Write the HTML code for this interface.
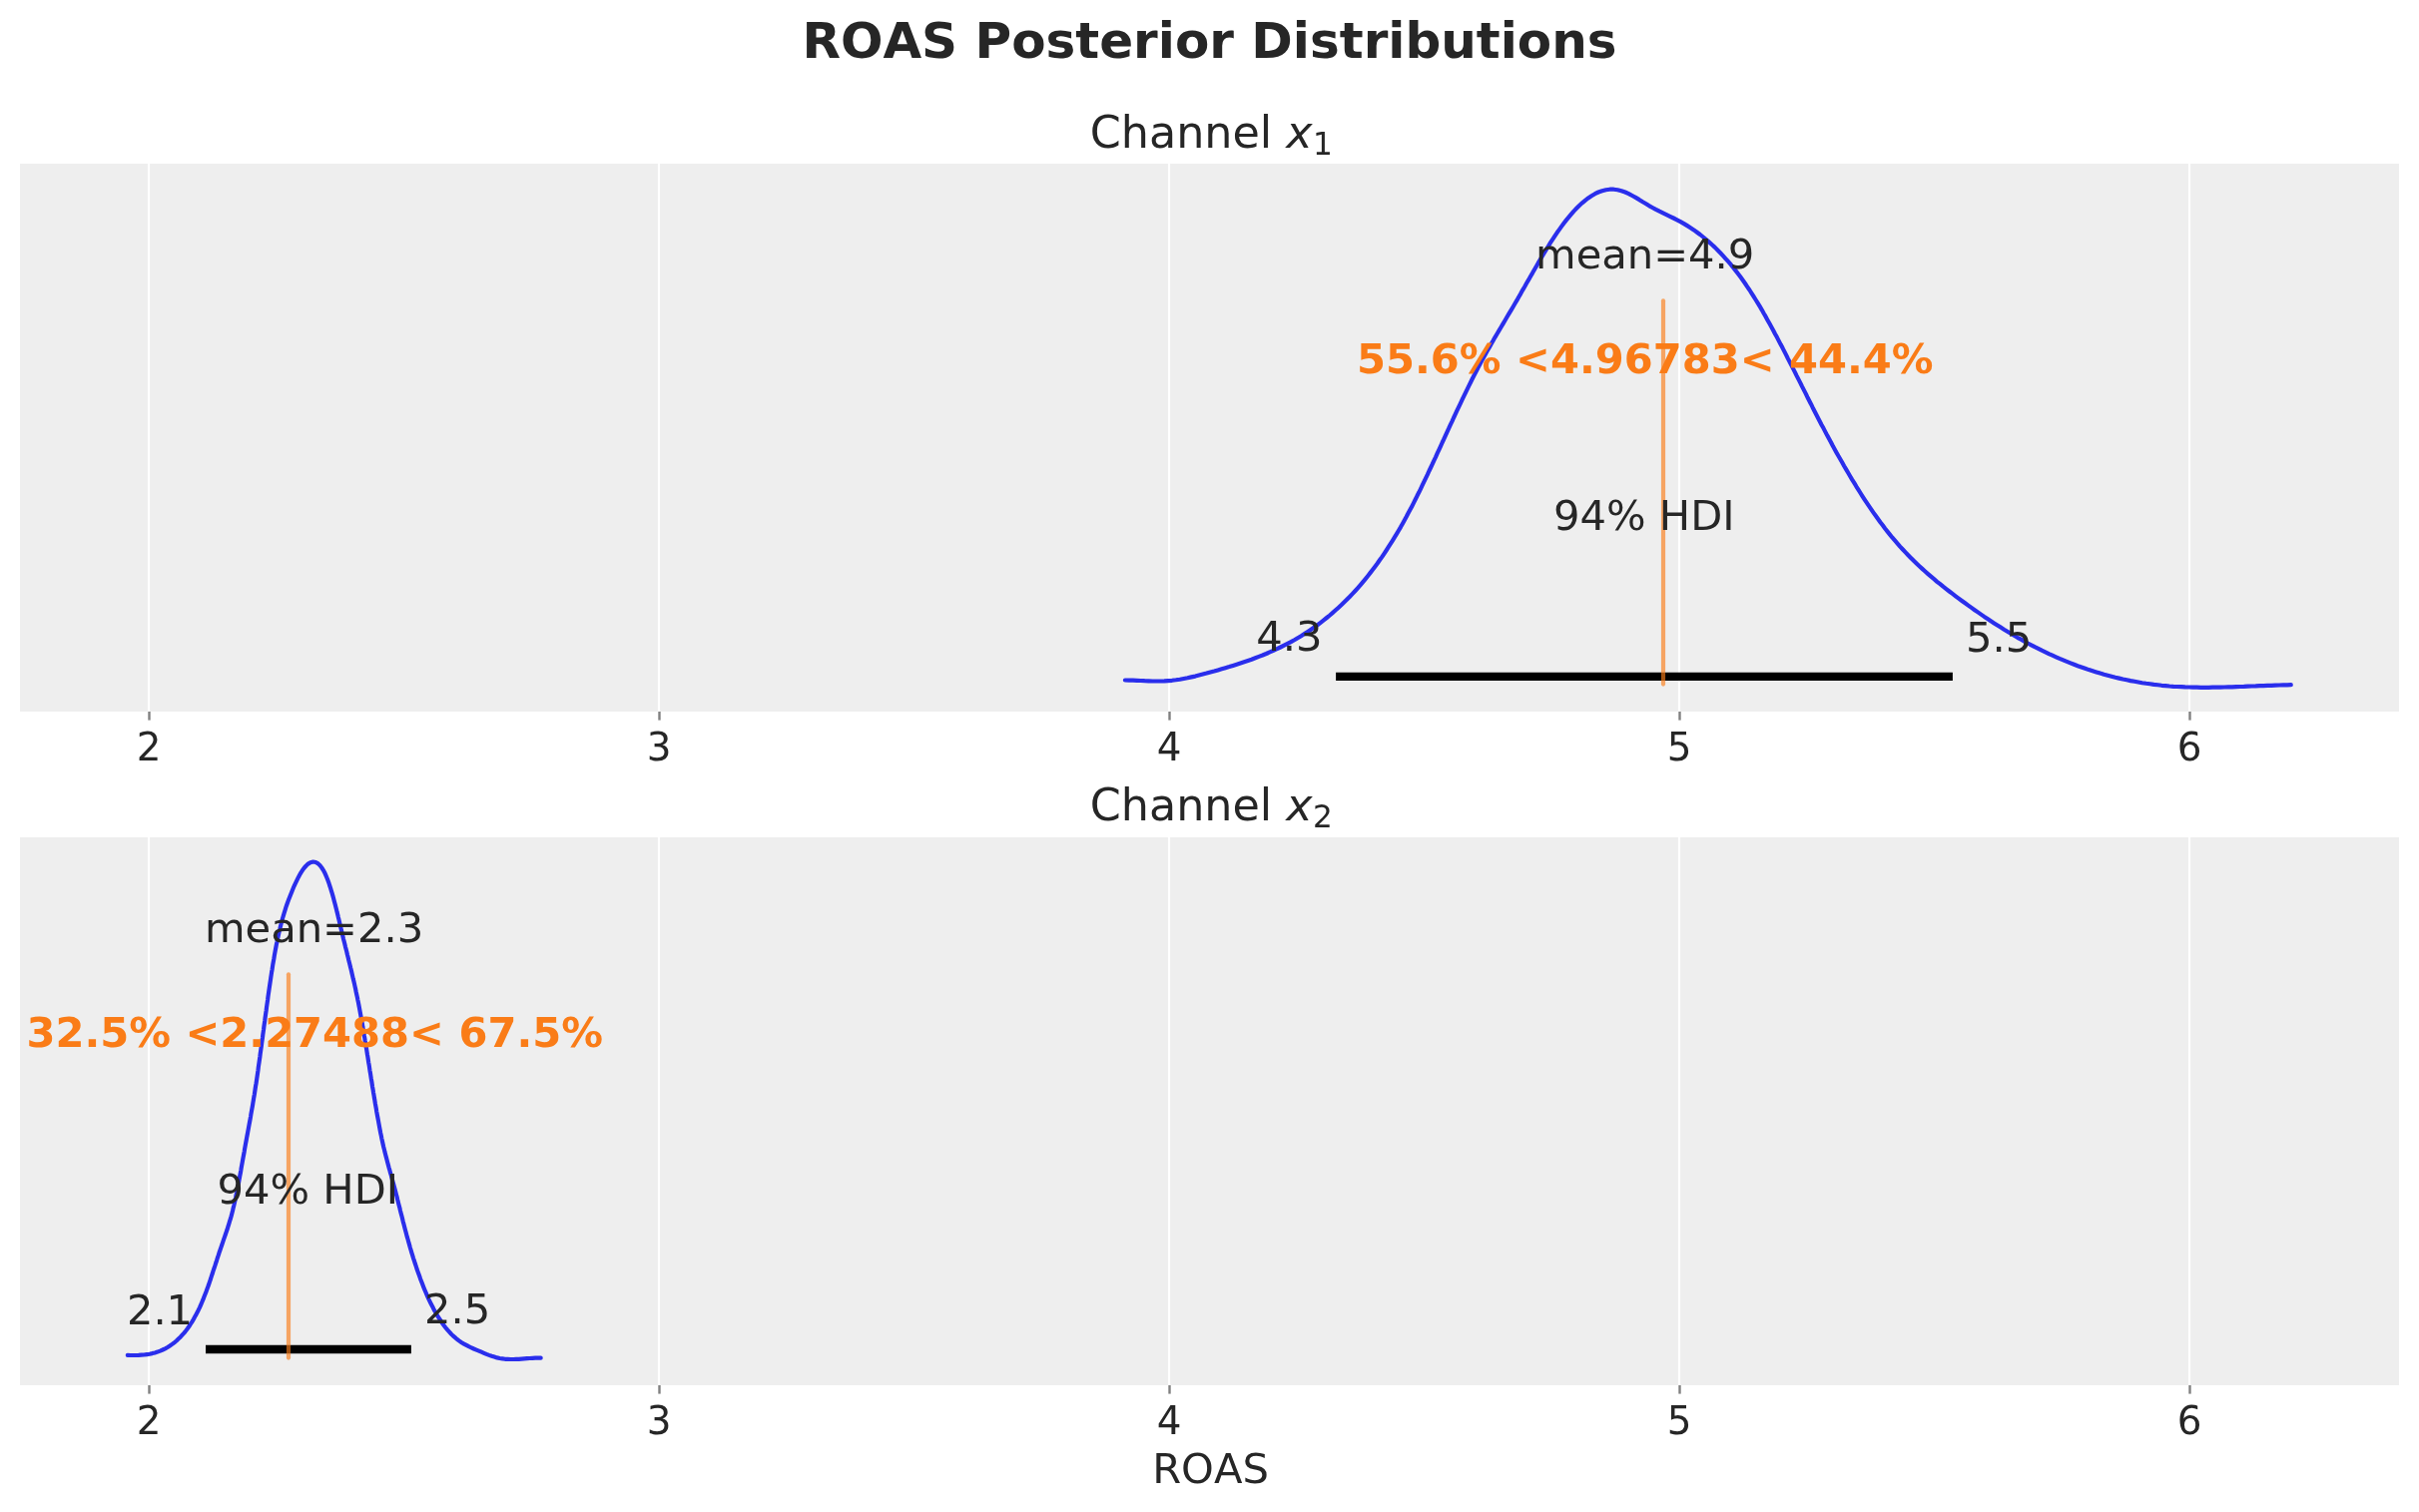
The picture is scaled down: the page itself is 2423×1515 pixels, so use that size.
<!DOCTYPE html>
<html lang="en">
<head>
<meta charset="utf-8">
<title>ROAS Posterior Distributions</title>
<style>
html,body{margin:0;padding:0;background:#ffffff;}
body{width:2423px;height:1515px;overflow:hidden;}
svg{display:block;will-change:transform;}
svg text{font-kerning:none;}
</style>
</head>
<body>
<svg width="2423" height="1515" viewBox="0 0 2423 1515" font-family='"DejaVu Sans", "Liberation Sans", sans-serif' fill="#262626">
<rect x="0" y="0" width="2423" height="1515" fill="#ffffff"/>
<text x="1211.5" y="58" font-size="50.0" font-weight="bold" text-anchor="middle">ROAS Posterior Distributions</text>
<rect x="20" y="164" width="2383" height="549" fill="#eeeeee"/>
<line x1="149.0" y1="164" x2="149.0" y2="713" stroke="#ffffff" stroke-width="2.2"/>
<line x1="660.0" y1="164" x2="660.0" y2="713" stroke="#ffffff" stroke-width="2.2"/>
<line x1="1171.0" y1="164" x2="1171.0" y2="713" stroke="#ffffff" stroke-width="2.2"/>
<line x1="1682.0" y1="164" x2="1682.0" y2="713" stroke="#ffffff" stroke-width="2.2"/>
<line x1="2193.0" y1="164" x2="2193.0" y2="713" stroke="#ffffff" stroke-width="2.2"/>
<line x1="149.5" y1="713" x2="149.5" y2="721.6" stroke="#808080" stroke-width="2.4"/>
<text x="149.0" y="762.2" font-size="38.89" text-anchor="middle">2</text>
<line x1="660.5" y1="713" x2="660.5" y2="721.6" stroke="#808080" stroke-width="2.4"/>
<text x="660.0" y="762.2" font-size="38.89" text-anchor="middle">3</text>
<line x1="1171.5" y1="713" x2="1171.5" y2="721.6" stroke="#808080" stroke-width="2.4"/>
<text x="1171.0" y="762.2" font-size="38.89" text-anchor="middle">4</text>
<line x1="1682.5" y1="713" x2="1682.5" y2="721.6" stroke="#808080" stroke-width="2.4"/>
<text x="1682.0" y="762.2" font-size="38.89" text-anchor="middle">5</text>
<line x1="2193.5" y1="713" x2="2193.5" y2="721.6" stroke="#808080" stroke-width="2.4"/>
<text x="2193.0" y="762.2" font-size="38.89" text-anchor="middle">6</text>
<text x="1213.3" y="147.9" font-size="44.44" text-anchor="middle">Channel <tspan font-style="oblique">x</tspan><tspan font-size="31.11" dy="6.6" dx="0.5">1</tspan></text>
<path d="M1126.9,681.5 L1130.8,681.6 L1134.8,681.7 L1138.7,681.8 L1142.6,682.0 L1146.5,682.2 L1150.5,682.3 L1154.4,682.5 L1158.3,682.5 L1162.3,682.5 L1166.2,682.4 L1170.1,682.1 L1174.0,681.8 L1177.9,681.3 L1181.8,680.7 L1185.7,680.0 L1189.5,679.3 L1193.4,678.4 L1197.2,677.6 L1201.0,676.6 L1204.8,675.6 L1208.6,674.6 L1212.4,673.5 L1216.2,672.5 L1220.0,671.4 L1223.7,670.3 L1227.5,669.2 L1231.3,668.1 L1235.0,666.9 L1238.8,665.7 L1242.5,664.5 L1246.2,663.3 L1250.0,662.0 L1253.7,660.7 L1257.4,659.3 L1261.0,657.9 L1264.7,656.5 L1268.3,655.0 L1271.9,653.4 L1275.5,651.8 L1279.1,650.2 L1282.6,648.5 L1286.2,646.7 L1289.7,644.9 L1293.1,643.1 L1296.5,641.2 L1299.9,639.2 L1303.3,637.2 L1306.6,635.1 L1309.9,632.9 L1313.2,630.7 L1316.4,628.5 L1319.6,626.2 L1322.8,623.8 L1325.9,621.4 L1328.9,619.0 L1332.0,616.5 L1335.0,613.9 L1337.9,611.3 L1340.8,608.7 L1343.7,606.0 L1346.5,603.3 L1349.3,600.5 L1352.1,597.7 L1354.8,594.9 L1357.5,592.0 L1360.1,589.1 L1362.7,586.1 L1365.2,583.1 L1367.7,580.1 L1370.2,577.0 L1372.6,573.9 L1375.0,570.8 L1377.3,567.7 L1379.7,564.5 L1381.9,561.3 L1384.2,558.1 L1386.4,554.8 L1388.6,551.5 L1390.7,548.2 L1392.8,544.9 L1394.9,541.6 L1397.0,538.2 L1399.0,534.9 L1401.0,531.5 L1403.0,528.1 L1404.9,524.7 L1406.8,521.2 L1408.7,517.8 L1410.5,514.3 L1412.4,510.8 L1414.2,507.4 L1416.0,503.9 L1417.8,500.3 L1419.5,496.8 L1421.3,493.3 L1423.0,489.8 L1424.7,486.2 L1426.4,482.7 L1428.1,479.1 L1429.8,475.6 L1431.4,472.0 L1433.1,468.5 L1434.8,464.9 L1436.4,461.3 L1438.1,457.8 L1439.7,454.2 L1441.4,450.6 L1443.0,447.1 L1444.6,443.5 L1446.3,439.9 L1447.9,436.3 L1449.5,432.8 L1451.2,429.2 L1452.8,425.6 L1454.5,422.1 L1456.1,418.5 L1457.8,414.9 L1459.4,411.4 L1461.1,407.8 L1462.8,404.3 L1464.5,400.7 L1466.2,397.2 L1467.9,393.6 L1469.6,390.1 L1471.3,386.6 L1473.1,383.0 L1474.8,379.5 L1476.6,376.0 L1478.4,372.5 L1480.2,369.0 L1482.1,365.6 L1483.9,362.1 L1485.8,358.7 L1487.7,355.2 L1489.6,351.8 L1491.6,348.4 L1493.5,344.9 L1495.5,341.5 L1497.4,338.1 L1499.4,334.7 L1501.4,331.4 L1503.4,328.0 L1505.4,324.6 L1507.4,321.2 L1509.4,317.8 L1511.4,314.4 L1513.4,311.1 L1515.4,307.7 L1517.4,304.3 L1519.4,300.9 L1521.3,297.5 L1523.3,294.1 L1525.2,290.6 L1527.2,287.2 L1529.1,283.8 L1531.1,280.4 L1533.0,277.0 L1535.0,273.6 L1536.9,270.2 L1538.9,266.8 L1540.8,263.4 L1542.8,260.0 L1544.8,256.6 L1546.9,253.2 L1548.9,249.9 L1551.0,246.5 L1553.0,243.2 L1555.2,239.9 L1557.3,236.6 L1559.5,233.3 L1561.8,230.1 L1564.1,226.9 L1566.4,223.7 L1568.8,220.6 L1571.3,217.6 L1573.8,214.6 L1576.4,211.6 L1579.1,208.8 L1581.9,206.0 L1584.8,203.3 L1587.8,200.8 L1590.9,198.4 L1594.2,196.2 L1597.6,194.2 L1601.1,192.5 L1604.8,191.2 L1608.6,190.2 L1612.5,189.7 L1616.4,189.7 L1620.3,190.2 L1624.1,191.2 L1627.8,192.5 L1631.4,194.1 L1634.9,196.0 L1638.3,197.9 L1641.7,199.9 L1645.0,202.0 L1648.4,204.0 L1651.7,206.1 L1655.1,208.0 L1658.6,209.9 L1662.1,211.7 L1665.6,213.4 L1669.2,215.1 L1672.7,216.8 L1676.2,218.5 L1679.8,220.3 L1683.2,222.1 L1686.7,224.1 L1690.0,226.1 L1693.3,228.2 L1696.6,230.4 L1699.8,232.7 L1702.9,235.0 L1706.0,237.5 L1709.0,240.0 L1712.0,242.6 L1714.9,245.2 L1717.8,247.9 L1720.6,250.7 L1723.3,253.5 L1726.0,256.4 L1728.6,259.3 L1731.2,262.2 L1733.8,265.2 L1736.2,268.3 L1738.7,271.4 L1741.1,274.5 L1743.4,277.6 L1745.7,280.8 L1748.0,284.0 L1750.2,287.3 L1752.4,290.5 L1754.5,293.8 L1756.6,297.2 L1758.7,300.5 L1760.8,303.9 L1762.8,307.2 L1764.8,310.6 L1766.7,314.0 L1768.7,317.4 L1770.6,320.9 L1772.5,324.3 L1774.4,327.7 L1776.3,331.2 L1778.1,334.7 L1780.0,338.1 L1781.8,341.6 L1783.6,345.1 L1785.5,348.6 L1787.3,352.1 L1789.1,355.6 L1790.8,359.1 L1792.6,362.6 L1794.4,366.1 L1796.2,369.6 L1798.0,373.1 L1799.7,376.6 L1801.5,380.1 L1803.3,383.6 L1805.0,387.1 L1806.8,390.6 L1808.6,394.1 L1810.3,397.7 L1812.1,401.2 L1813.9,404.7 L1815.6,408.2 L1817.4,411.7 L1819.2,415.2 L1821.0,418.7 L1822.8,422.2 L1824.6,425.7 L1826.5,429.1 L1828.3,432.6 L1830.1,436.1 L1832.0,439.6 L1833.9,443.0 L1835.7,446.5 L1837.6,449.9 L1839.5,453.4 L1841.4,456.8 L1843.4,460.2 L1845.3,463.6 L1847.2,467.0 L1849.2,470.4 L1851.2,473.8 L1853.2,477.2 L1855.2,480.6 L1857.3,483.9 L1859.3,487.3 L1861.4,490.6 L1863.5,494.0 L1865.6,497.3 L1867.7,500.6 L1869.9,503.9 L1872.1,507.1 L1874.3,510.4 L1876.5,513.6 L1878.8,516.8 L1881.1,520.0 L1883.4,523.2 L1885.8,526.3 L1888.1,529.5 L1890.6,532.6 L1893.0,535.6 L1895.5,538.7 L1898.1,541.7 L1900.6,544.6 L1903.2,547.6 L1905.9,550.5 L1908.6,553.4 L1911.3,556.2 L1914.0,559.0 L1916.8,561.8 L1919.6,564.5 L1922.5,567.2 L1925.4,569.9 L1928.3,572.5 L1931.2,575.1 L1934.2,577.7 L1937.2,580.2 L1940.2,582.8 L1943.3,585.2 L1946.3,587.7 L1949.4,590.1 L1952.5,592.5 L1955.7,594.9 L1958.8,597.3 L1961.9,599.6 L1965.1,602.0 L1968.3,604.3 L1971.5,606.6 L1974.7,608.9 L1977.9,611.2 L1981.1,613.4 L1984.3,615.6 L1987.6,617.9 L1990.8,620.0 L1994.1,622.2 L1997.4,624.4 L2000.7,626.5 L2004.0,628.6 L2007.3,630.7 L2010.7,632.7 L2014.1,634.8 L2017.4,636.8 L2020.8,638.8 L2024.3,640.7 L2027.7,642.6 L2031.1,644.5 L2034.6,646.3 L2038.1,648.2 L2041.6,649.9 L2045.1,651.7 L2048.7,653.4 L2052.2,655.1 L2055.8,656.7 L2059.4,658.3 L2063.0,659.9 L2066.6,661.4 L2070.2,662.9 L2073.9,664.4 L2077.5,665.8 L2081.2,667.2 L2084.9,668.5 L2088.6,669.8 L2092.3,671.1 L2096.1,672.3 L2099.8,673.4 L2103.6,674.6 L2107.4,675.7 L2111.2,676.7 L2115.0,677.7 L2118.8,678.7 L2122.6,679.6 L2126.4,680.5 L2130.3,681.3 L2134.1,682.1 L2138.0,682.8 L2141.9,683.5 L2145.7,684.2 L2149.6,684.8 L2153.5,685.3 L2157.4,685.9 L2161.3,686.3 L2165.2,686.8 L2169.1,687.1 L2173.0,687.5 L2177.0,687.8 L2180.9,688.0 L2184.8,688.2 L2188.7,688.4 L2192.7,688.5 L2196.6,688.6 L2200.5,688.7 L2204.4,688.8 L2208.4,688.8 L2212.3,688.8 L2216.2,688.7 L2220.2,688.7 L2224.1,688.6 L2228.0,688.5 L2232.0,688.4 L2235.9,688.3 L2239.8,688.1 L2243.7,688.0 L2247.7,687.9 L2251.6,687.7 L2255.5,687.5 L2259.4,687.4 L2263.4,687.2 L2267.3,687.1 L2271.2,686.9 L2275.2,686.8 L2279.1,686.6 L2283.0,686.5 L2286.9,686.4 L2290.9,686.3 L2294.8,686.2" fill="none" stroke="#2a2eec" stroke-width="4.17" stroke-linecap="round" stroke-linejoin="round"/>
<line x1="1338.1" y1="677.9" x2="1955.9" y2="677.9" stroke="#000000" stroke-width="8.33"/>
<line x1="1666" y1="301.25" x2="1666" y2="685.55" stroke="#fa7c17" stroke-opacity="0.65" stroke-width="4.17" stroke-linecap="round"/>
<text x="1647.7" y="269.2" font-size="41.67" text-anchor="middle">mean=4.9</text>
<text x="1647.8" y="373.8" font-size="41.67" font-weight="bold" fill="#fa7c17" text-anchor="middle" xml:space="preserve">55.6% &lt;4.96783&lt; 44.4%</text>
<text x="1646.8" y="530.7" font-size="41.67" text-anchor="middle">94% HDI</text>
<text x="1291.3" y="652.0" font-size="41.67" text-anchor="middle">4.3</text>
<text x="2002.2" y="652.7" font-size="41.67" text-anchor="middle">5.5</text>
<rect x="20" y="839" width="2383" height="549" fill="#eeeeee"/>
<line x1="149.0" y1="839" x2="149.0" y2="1388" stroke="#ffffff" stroke-width="2.2"/>
<line x1="660.0" y1="839" x2="660.0" y2="1388" stroke="#ffffff" stroke-width="2.2"/>
<line x1="1171.0" y1="839" x2="1171.0" y2="1388" stroke="#ffffff" stroke-width="2.2"/>
<line x1="1682.0" y1="839" x2="1682.0" y2="1388" stroke="#ffffff" stroke-width="2.2"/>
<line x1="2193.0" y1="839" x2="2193.0" y2="1388" stroke="#ffffff" stroke-width="2.2"/>
<line x1="149.5" y1="1388" x2="149.5" y2="1396.6" stroke="#808080" stroke-width="2.4"/>
<text x="149.0" y="1437.2" font-size="38.89" text-anchor="middle">2</text>
<line x1="660.5" y1="1388" x2="660.5" y2="1396.6" stroke="#808080" stroke-width="2.4"/>
<text x="660.0" y="1437.2" font-size="38.89" text-anchor="middle">3</text>
<line x1="1171.5" y1="1388" x2="1171.5" y2="1396.6" stroke="#808080" stroke-width="2.4"/>
<text x="1171.0" y="1437.2" font-size="38.89" text-anchor="middle">4</text>
<line x1="1682.5" y1="1388" x2="1682.5" y2="1396.6" stroke="#808080" stroke-width="2.4"/>
<text x="1682.0" y="1437.2" font-size="38.89" text-anchor="middle">5</text>
<line x1="2193.5" y1="1388" x2="2193.5" y2="1396.6" stroke="#808080" stroke-width="2.4"/>
<text x="2193.0" y="1437.2" font-size="38.89" text-anchor="middle">6</text>
<text x="1213.3" y="821.9" font-size="44.44" text-anchor="middle">Channel <tspan font-style="oblique">x</tspan><tspan font-size="31.11" dy="6.6" dx="0.5">2</tspan></text>
<path transform="translate(-0.5,0)" d="M128.3,1357.9 L131.1,1358.0 L133.8,1358.0 L136.6,1358.0 L139.3,1357.9 L142.1,1357.7 L144.8,1357.5 L147.6,1357.1 L150.3,1356.7 L153.0,1356.1 L155.6,1355.4 L158.3,1354.6 L160.9,1353.6 L163.4,1352.5 L165.9,1351.3 L168.3,1350.0 L170.6,1348.5 L172.9,1346.9 L175.0,1345.3 L177.2,1343.5 L179.2,1341.6 L181.2,1339.7 L183.0,1337.7 L184.9,1335.6 L186.6,1333.5 L188.3,1331.3 L189.9,1329.0 L191.4,1326.7 L192.9,1324.4 L194.3,1322.0 L195.6,1319.6 L196.9,1317.2 L198.2,1314.8 L199.4,1312.3 L200.6,1309.8 L201.7,1307.3 L202.8,1304.7 L203.9,1302.2 L204.9,1299.6 L205.9,1297.1 L206.9,1294.5 L207.8,1291.9 L208.8,1289.3 L209.7,1286.7 L210.6,1284.1 L211.5,1281.5 L212.3,1278.9 L213.2,1276.3 L214.0,1273.6 L214.9,1271.0 L215.8,1268.4 L216.6,1265.8 L217.5,1263.2 L218.3,1260.5 L219.2,1257.9 L220.0,1255.3 L220.9,1252.7 L221.8,1250.1 L222.7,1247.5 L223.6,1244.9 L224.5,1242.2 L225.4,1239.6 L226.3,1237.0 L227.2,1234.4 L228.1,1231.8 L228.9,1229.2 L229.7,1226.6 L230.5,1223.9 L231.3,1221.3 L232.1,1218.6 L232.8,1216.0 L233.5,1213.3 L234.1,1210.6 L234.8,1207.9 L235.4,1205.3 L236.0,1202.6 L236.6,1199.9 L237.1,1197.2 L237.7,1194.5 L238.2,1191.8 L238.7,1189.1 L239.3,1186.4 L239.8,1183.6 L240.3,1180.9 L240.8,1178.2 L241.3,1175.5 L241.8,1172.8 L242.2,1170.1 L242.7,1167.4 L243.2,1164.7 L243.7,1161.9 L244.2,1159.2 L244.7,1156.5 L245.2,1153.8 L245.6,1151.1 L246.1,1148.4 L246.6,1145.7 L247.1,1143.0 L247.6,1140.2 L248.1,1137.5 L248.6,1134.8 L249.1,1132.1 L249.6,1129.4 L250.1,1126.7 L250.6,1124.0 L251.1,1121.3 L251.6,1118.5 L252.0,1115.8 L252.5,1113.1 L253.0,1110.4 L253.5,1107.7 L253.9,1105.0 L254.4,1102.2 L254.8,1099.5 L255.3,1096.8 L255.7,1094.1 L256.1,1091.4 L256.5,1088.6 L257.0,1085.9 L257.4,1083.2 L257.8,1080.5 L258.2,1077.7 L258.6,1075.0 L259.0,1072.3 L259.3,1069.5 L259.7,1066.8 L260.1,1064.1 L260.5,1061.4 L260.9,1058.6 L261.2,1055.9 L261.6,1053.2 L262.0,1050.4 L262.4,1047.7 L262.7,1045.0 L263.1,1042.2 L263.5,1039.5 L263.8,1036.8 L264.2,1034.0 L264.6,1031.3 L264.9,1028.6 L265.3,1025.8 L265.7,1023.1 L266.0,1020.4 L266.4,1017.6 L266.8,1014.9 L267.2,1012.2 L267.5,1009.5 L267.9,1006.7 L268.3,1004.0 L268.7,1001.3 L269.0,998.5 L269.4,995.8 L269.8,993.1 L270.2,990.3 L270.6,987.6 L271.0,984.9 L271.4,982.2 L271.8,979.4 L272.2,976.7 L272.6,974.0 L273.1,971.3 L273.5,968.5 L273.9,965.8 L274.4,963.1 L274.9,960.4 L275.3,957.7 L275.8,954.9 L276.3,952.2 L276.8,949.5 L277.3,946.8 L277.9,944.1 L278.4,941.4 L279.0,938.7 L279.6,936.0 L280.2,933.3 L280.9,930.7 L281.5,928.0 L282.2,925.3 L282.9,922.6 L283.6,920.0 L284.4,917.3 L285.2,914.7 L286.0,912.1 L286.8,909.4 L287.7,906.8 L288.6,904.2 L289.6,901.6 L290.6,899.1 L291.6,896.5 L292.6,893.9 L293.6,891.4 L294.7,888.8 L295.8,886.3 L297.0,883.8 L298.2,881.3 L299.4,878.9 L300.7,876.5 L302.1,874.1 L303.6,871.8 L305.3,869.5 L307.1,867.5 L309.1,865.6 L311.4,864.2 L314.1,863.5 L316.8,864.0 L319.2,865.4 L321.1,867.3 L322.8,869.5 L324.3,871.8 L325.6,874.2 L326.7,876.7 L327.8,879.3 L328.8,881.8 L329.8,884.4 L330.6,887.0 L331.5,889.7 L332.3,892.3 L333.1,894.9 L333.9,897.6 L334.6,900.2 L335.3,902.9 L336.0,905.6 L336.7,908.2 L337.4,910.9 L338.0,913.6 L338.7,916.3 L339.3,918.9 L340.0,921.6 L340.6,924.3 L341.2,927.0 L341.9,929.7 L342.5,932.4 L343.2,935.0 L343.8,937.7 L344.4,940.4 L345.1,943.1 L345.8,945.8 L346.4,948.4 L347.1,951.1 L347.8,953.8 L348.4,956.5 L349.1,959.1 L349.7,961.8 L350.4,964.5 L351.1,967.2 L351.7,969.8 L352.4,972.5 L353.0,975.2 L353.6,977.9 L354.2,980.6 L354.9,983.3 L355.5,985.9 L356.1,988.6 L356.7,991.3 L357.2,994.0 L357.8,996.7 L358.4,999.4 L358.9,1002.1 L359.5,1004.8 L360.0,1007.5 L360.5,1010.2 L361.0,1012.9 L361.5,1015.7 L362.0,1018.4 L362.5,1021.1 L363.0,1023.8 L363.5,1026.5 L363.9,1029.2 L364.4,1031.9 L364.9,1034.7 L365.3,1037.4 L365.8,1040.1 L366.2,1042.8 L366.7,1045.5 L367.1,1048.3 L367.6,1051.0 L368.0,1053.7 L368.4,1056.4 L368.9,1059.1 L369.3,1061.9 L369.7,1064.6 L370.2,1067.3 L370.6,1070.0 L371.0,1072.8 L371.5,1075.5 L371.9,1078.2 L372.3,1080.9 L372.8,1083.6 L373.2,1086.4 L373.6,1089.1 L374.1,1091.8 L374.5,1094.5 L375.0,1097.3 L375.4,1100.0 L375.9,1102.7 L376.3,1105.4 L376.8,1108.1 L377.3,1110.8 L377.7,1113.6 L378.2,1116.3 L378.7,1119.0 L379.2,1121.7 L379.7,1124.4 L380.2,1127.1 L380.7,1129.8 L381.2,1132.5 L381.7,1135.2 L382.3,1137.9 L382.8,1140.6 L383.4,1143.3 L384.0,1146.0 L384.6,1148.7 L385.3,1151.4 L385.9,1154.1 L386.6,1156.8 L387.3,1159.4 L388.0,1162.1 L388.7,1164.8 L389.4,1167.4 L390.1,1170.1 L390.9,1172.7 L391.6,1175.4 L392.4,1178.0 L393.1,1180.7 L393.8,1183.4 L394.6,1186.0 L395.3,1188.7 L396.0,1191.3 L396.7,1194.0 L397.4,1196.7 L398.1,1199.3 L398.7,1202.0 L399.4,1204.7 L400.1,1207.4 L400.8,1210.0 L401.4,1212.7 L402.1,1215.4 L402.8,1218.1 L403.5,1220.7 L404.1,1223.4 L404.8,1226.1 L405.5,1228.7 L406.2,1231.4 L406.9,1234.1 L407.6,1236.7 L408.3,1239.4 L409.1,1242.0 L409.8,1244.7 L410.6,1247.4 L411.3,1250.0 L412.1,1252.6 L412.9,1255.3 L413.7,1257.9 L414.5,1260.6 L415.4,1263.2 L416.2,1265.8 L417.1,1268.4 L417.9,1271.0 L418.8,1273.6 L419.8,1276.3 L420.7,1278.8 L421.6,1281.4 L422.6,1284.0 L423.6,1286.6 L424.6,1289.2 L425.6,1291.7 L426.7,1294.3 L427.8,1296.8 L428.9,1299.3 L430.0,1301.8 L431.2,1304.3 L432.4,1306.8 L433.7,1309.2 L434.9,1311.7 L436.3,1314.1 L437.6,1316.5 L439.0,1318.9 L440.5,1321.2 L442.0,1323.5 L443.5,1325.8 L445.1,1328.0 L446.8,1330.2 L448.6,1332.4 L450.4,1334.4 L452.3,1336.5 L454.2,1338.4 L456.3,1340.2 L458.4,1342.0 L460.6,1343.6 L462.9,1345.2 L465.3,1346.6 L467.7,1347.9 L470.1,1349.2 L472.6,1350.3 L475.1,1351.5 L477.7,1352.6 L480.2,1353.6 L482.7,1354.7 L485.3,1355.8 L487.8,1356.9 L490.4,1357.9 L493.0,1358.8 L495.6,1359.6 L498.3,1360.4 L501.0,1361.0 L503.7,1361.4 L506.4,1361.8 L509.2,1361.9 L511.9,1362.0 L514.7,1362.0 L517.4,1361.9 L520.2,1361.8 L522.9,1361.6 L525.7,1361.4 L528.4,1361.2 L531.2,1361.0 L533.9,1360.8 L536.7,1360.7 L539.4,1360.7 L542.2,1360.7" fill="none" stroke="#2a2eec" stroke-width="4.17" stroke-linecap="round" stroke-linejoin="round"/>
<line x1="206.0" y1="1352" x2="411.9" y2="1352" stroke="#000000" stroke-width="8.33"/>
<line x1="289.0" y1="976.25" x2="289.0" y2="1360.55" stroke="#fa7c17" stroke-opacity="0.65" stroke-width="4.17" stroke-linecap="round"/>
<text x="314.6" y="943.8" font-size="41.67" text-anchor="middle">mean=2.3</text>
<text x="315.2" y="1048.9" font-size="41.67" font-weight="bold" fill="#fa7c17" text-anchor="middle" xml:space="preserve">32.5% &lt;2.27488&lt; 67.5%</text>
<text x="308.3" y="1206.2" font-size="41.67" text-anchor="middle">94% HDI</text>
<text x="160.0" y="1326.8" font-size="41.67" text-anchor="middle">2.1</text>
<text x="458.1" y="1326.0" font-size="41.67" text-anchor="middle">2.5</text>
<text x="1212.5" y="1486.3" font-size="41.67" text-anchor="middle">ROAS</text>
</svg>
</body>
</html>
